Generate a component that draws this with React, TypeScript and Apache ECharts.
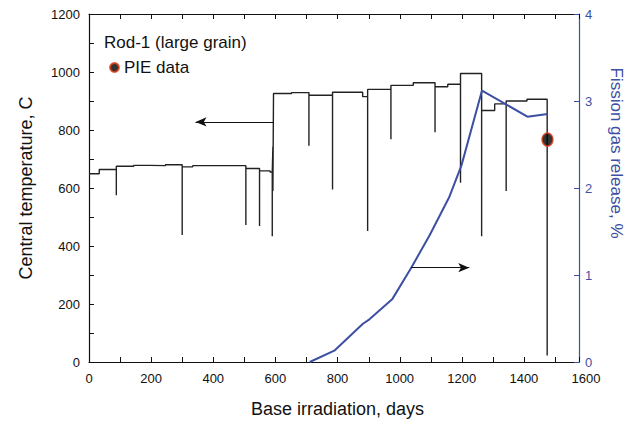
import React, { useEffect, useRef } from "react";
import * as echarts from "echarts";

// Central temperature history (polyline vertices: day, temperature C)
const tempDays = [
  0, 33, 33, 88, 88, 88, 144, 144, 195, 195, 246, 246, 300, 300, 300, 334, 334,
  505, 505, 505, 549, 549, 549, 583, 583, 590, 590, 590, 592, 592, 592, 594, 594,
  652, 652, 708, 708, 708, 784, 784, 784, 881, 881, 897, 897, 897, 972, 972, 972,
  1044, 1044, 1114, 1114, 1114, 1155, 1155, 1196, 1196, 1196, 1264, 1264, 1264,
  1306, 1306, 1343, 1343, 1343, 1410, 1410, 1475, 1475,
];
const tempValues = [
  649, 649, 664, 664, 575, 675, 675, 678, 678, 677, 677, 680, 680, 438, 673, 673, 677,
  677, 472, 667, 667, 469, 659, 659, 655, 655, 434, 655, 655, 742, 590, 590, 926,
  926, 929, 929, 746, 920, 920, 595, 930, 930, 915, 915, 452, 940, 940, 768, 954,
  954, 963, 963, 792, 949, 949, 958, 958, 618, 995, 995, 434, 867,
  867, 890, 890, 590, 900, 900, 906, 906, 22,
];

// Fission gas release, %
const fgrDays = [710, 789, 881, 902, 975, 1036, 1096, 1158, 1198, 1264, 1410, 1475];
const fgrValues = [0, 0.13, 0.44, 0.49, 0.72, 1.08, 1.46, 1.89, 2.26, 3.12, 2.82, 2.85];

// PIE measurement
const pieDays = [1476];
const pieTemps = [767];

// Annotation arrows
const leftArrow = { fromDay: 593, toDay: 343, temp: 828 };
const rightArrow = { fromDay: 1036, toDay: 1223, fgr: 1.084 };

const BLUE = "#3d4fa3";
const FONT = "'Liberation Sans', Arial, sans-serif";

export default function App() {
  const ref = useRef<HTMLDivElement>(null);
  useEffect(() => {
    if (!ref.current) return;
    const chart = echarts.init(ref.current, undefined, { renderer: "svg" });
    const tempData = tempDays.map((d, i) => [d, tempValues[i]]);
    const fgrData = fgrDays.map((d, i) => [d, fgrValues[i]]);
    const pieData = pieDays.map((d, i) => [d, pieTemps[i]]);
    const option: any = {
      animation: false,
      backgroundColor: "#ffffff",
      textStyle: { fontFamily: FONT },
      grid: [
        { left: 89, right: 51, top: 14, bottom: 71 },
        { left: 89, right: 58, top: 14, bottom: 71 },
      ],
      legend: {
        left: 109,
        top: 59,
        padding: 0,
        itemWidth: 9,
        itemHeight: 12,
        textStyle: { fontSize: 17, color: "#111", fontFamily: FONT },
        data: [{ name: "PIE data", icon: "circle" }],
      },
      graphic: [
        {
          type: "text",
          left: 104,
          top: 34,
          style: { text: "Rod-1 (large grain)", fontSize: 17, fill: "#111", fontFamily: FONT },
        },
        {
          type: "text",
          x: 616,
          y: 153,
          rotation: -Math.PI / 2,
          style: {
            text: "Fission gas release, %",
            fontSize: 17,
            fill: BLUE,
            fontFamily: FONT,
            align: "center",
            verticalAlign: "middle",
          },
        },
      ],
      xAxis: [
        {
          gridIndex: 0,
          type: "value",
          min: 0,
          max: 1600,
          interval: 200,
          axisLine: { show: false },
          axisTick: { show: false },
          splitLine: { show: false },
          axisLabel: {
            margin: 10,
            fontSize: 13,
            color: "#111",
            fontFamily: FONT,
            formatter: (v: number) => String(v),
          },
          name: "Base irradiation, days",
          nameLocation: "middle",
          nameGap: 38,
          nameTextStyle: { fontSize: 18, color: "#111", fontFamily: FONT },
        },
        {
          gridIndex: 1,
          type: "value",
          position: "top",
          min: 0,
          max: 1576,
          interval: 100,
          axisLine: { show: true, onZero: false, lineStyle: { color: "#111", width: 1.2 } },
          axisTick: { show: true, inside: true, length: 5, lineStyle: { color: "#111" } },
          axisLabel: { show: false },
          splitLine: { show: false },
        },
        {
          gridIndex: 1,
          type: "value",
          position: "bottom",
          min: 0,
          max: 1576,
          interval: 100,
          axisLine: { show: true, onZero: false, lineStyle: { color: "#111", width: 1.2 } },
          axisTick: { show: true, inside: true, length: 5, lineStyle: { color: "#111" } },
          axisLabel: { show: false },
          splitLine: { show: false },
        },
      ],
      yAxis: [
        {
          gridIndex: 0,
          type: "value",
          position: "left",
          min: 0,
          max: 1200,
          interval: 100,
          axisLine: { show: true, onZero: false, lineStyle: { color: "#111", width: 1.2 } },
          axisTick: { show: true, inside: true, length: 5, lineStyle: { color: "#111" } },
          axisLabel: {
            margin: 9,
            fontSize: 13,
            color: "#111",
            fontFamily: FONT,
            formatter: (v: number) => (v % 200 === 0 ? String(v) : ""),
          },
          splitLine: { show: false },
          name: "Central temperature, C",
          nameLocation: "middle",
          nameGap: 54,
          nameTextStyle: { fontSize: 18, color: "#111", fontFamily: FONT },
        },
        {
          gridIndex: 1,
          type: "value",
          position: "right",
          min: 0,
          max: 4,
          interval: 1,
          axisLine: { show: true, onZero: false, lineStyle: { color: BLUE, width: 1.2 } },
          axisTick: { show: true, inside: true, length: 5, lineStyle: { color: BLUE } },
          axisLabel: { margin: 6, fontSize: 13, color: BLUE, fontFamily: FONT },
          splitLine: { show: false },
        },
      ],
      series: [
        {
          name: "Temperature",
          type: "line",
          xAxisIndex: 0,
          yAxisIndex: 0,
          data: tempData,
          showSymbol: false,
          symbol: "none",
          lineStyle: { color: "#222", width: 1.4 },
          markLine: {
            silent: true,
            symbol: ["none", "arrow"],
            symbolSize: [7, 11],
            label: { show: false },
            lineStyle: { color: "#111", width: 1.2, type: "solid" },
            data: [
              [
                { coord: [leftArrow.fromDay, leftArrow.temp] },
                { coord: [leftArrow.toDay, leftArrow.temp] },
              ],
            ],
          },
        },
        {
          name: "FGR",
          type: "line",
          xAxisIndex: 1,
          yAxisIndex: 1,
          data: fgrData,
          showSymbol: false,
          symbol: "none",
          lineStyle: { color: BLUE, width: 2 },
          markLine: {
            silent: true,
            symbol: ["none", "arrow"],
            symbolSize: [7, 11],
            label: { show: false },
            lineStyle: { color: "#111", width: 1.2, type: "solid" },
            data: [
              [
                { coord: [rightArrow.fromDay, rightArrow.fgr] },
                { coord: [rightArrow.toDay, rightArrow.fgr] },
              ],
            ],
          },
        },
        {
          name: "PIE data",
          type: "scatter",
          xAxisIndex: 0,
          yAxisIndex: 0,
          data: pieData,
          symbol: "circle",
          symbolSize: [11, 13],
          itemStyle: { color: "#000", borderColor: "#e0401a", borderWidth: 1.5 },
          z: 5,
        },
      ],
    };
    chart.setOption(option);
    return () => chart.dispose();
  }, []);
  return (
    <div
      ref={ref}
      style={{ position: "absolute", left: 0, top: 0, width: 637, height: 433 }}
    />
  );
}
